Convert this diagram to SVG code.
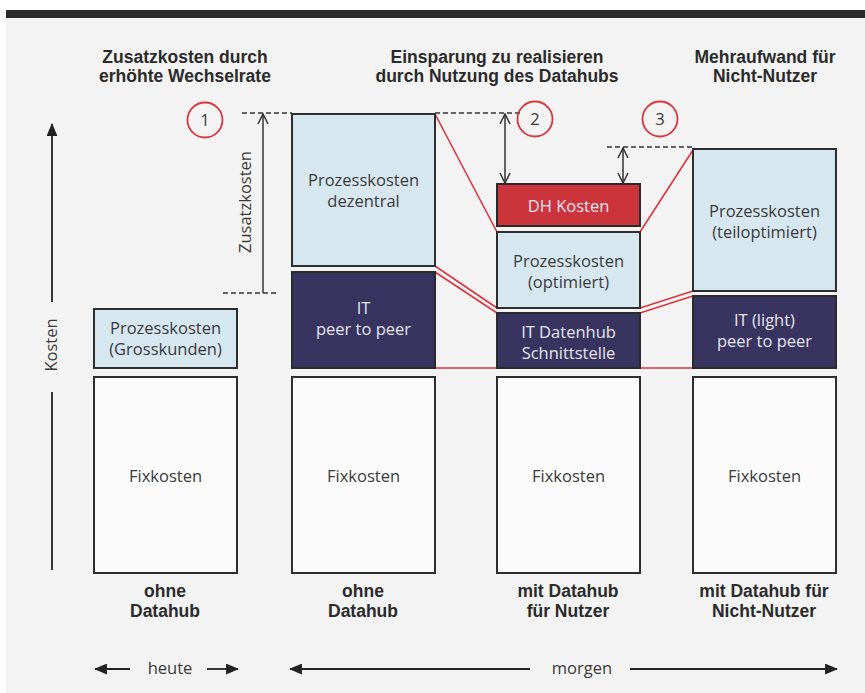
<svg xmlns="http://www.w3.org/2000/svg" width="865" height="693" viewBox="0 0 865 693">
<defs>
<style>
.hd{font-family:"Liberation Sans",Arial,sans-serif;font-weight:bold;font-size:17.5px;fill:#2b2b2b;text-anchor:middle}
.t{font-family:"Open Sans","Liberation Sans",sans-serif;font-size:16.5px;fill:#3a3a3a;text-anchor:middle}
.tl{font-family:"Open Sans","Liberation Sans",sans-serif;font-size:16.5px;fill:#e4e4ee;text-anchor:middle}
.lb{fill:#d6e7f0;stroke:#2e2e2e;stroke-width:2}
.dk{fill:#39345f;stroke:#2a2a2a;stroke-width:2}
.wh{fill:#fbfbfb;stroke:#2e2e2e;stroke-width:2}
.rd{fill:#cc343c;stroke:#2a2a2a;stroke-width:2}
.rl{stroke:#d9363e;stroke-width:1.6;fill:none}
.ds{stroke:#333;stroke-width:1.5;stroke-dasharray:5,3;fill:none}
.ar{stroke:#333;stroke-width:1.5;fill:none}
.ci{fill:none;stroke:#d9363e;stroke-width:1.8}
</style>
<marker id="open" viewBox="0 0 12 12" refX="11" refY="6" markerWidth="12" markerHeight="12" markerUnits="userSpaceOnUse" orient="auto-start-reverse">
<path d="M1,1 L11,6 L1,11" fill="none" stroke="#333" stroke-width="1.5"/>
</marker>
<marker id="fill" viewBox="0 0 12 10" refX="11" refY="5" markerWidth="13" markerHeight="11" markerUnits="userSpaceOnUse" orient="auto-start-reverse">
<path d="M0,0 L12,5 L0,10 Z" fill="#222"/>
</marker>
</defs>
<rect x="0" y="0" width="865" height="693" fill="#f3f3f3"/>
<rect x="0" y="0" width="865" height="10" fill="#ffffff"/>
<rect x="0" y="0" width="6" height="693" fill="#ffffff"/>
<rect x="6" y="10" width="859" height="8" fill="#2a2a2a"/>

<g id="headers">
<text class="hd" x="185" y="63">Zusatzkosten durch</text>
<text class="hd" x="185" y="82">erhöhte Wechselrate</text>
<text class="hd" x="497" y="63">Einsparung zu realisieren</text>
<text class="hd" x="497" y="82">durch Nutzung des Datahubs</text>
<text class="hd" x="765" y="63">Mehraufwand für</text>
<text class="hd" x="765" y="82">Nicht-Nutzer</text>
</g>

<g id="axis">
<line x1="52" y1="302" x2="52" y2="124" stroke="#222" stroke-width="1.8" marker-end="url(#fill)"/>
<text class="t" transform="translate(57,345) rotate(-90)">Kosten</text>
<line x1="52" y1="392" x2="52" y2="570" stroke="#222" stroke-width="1.8"/>
</g>

<g id="connectors">
<line class="ds" x1="223" y1="293" x2="276" y2="293"/>
<line class="ds" x1="242" y1="113" x2="292" y2="113"/>
<line class="ds" x1="435" y1="113" x2="522" y2="113"/>
<line class="ds" x1="607" y1="147" x2="693" y2="147"/>
<line class="ar" x1="263" y1="293" x2="263" y2="114" marker-end="url(#open)"/>
<line class="ar" x1="505" y1="114" x2="505" y2="183" marker-start="url(#open)" marker-end="url(#open)"/>
<line class="ar" x1="623" y1="148" x2="623" y2="183" marker-start="url(#open)" marker-end="url(#open)"/>
<line class="rl" x1="435" y1="114" x2="497" y2="232"/>
<line class="rl" x1="640" y1="232" x2="693" y2="150"/>
<line class="rl" x1="435" y1="266" x2="497" y2="308"/>
<line class="rl" x1="435" y1="272" x2="497" y2="313"/>
<line class="rl" x1="640" y1="308" x2="693" y2="291"/>
<line class="rl" x1="640" y1="313" x2="693" y2="296"/>
<line class="rl" x1="435" y1="368" x2="497" y2="368"/>
<line class="rl" x1="640" y1="368" x2="693" y2="368"/>
</g>

<g id="zusatz-label">
<text class="t" transform="translate(251,202) rotate(-90)">Zusatzkosten</text>
</g>

<g id="circle1"><circle class="ci" cx="205" cy="120" r="17.5"/><text class="t" x="205" y="126">1</text></g>
<g id="circle2"><circle class="ci" cx="535" cy="119" r="17.5"/><text class="t" x="535" y="125">2</text></g>
<g id="circle3"><circle class="ci" cx="660" cy="119" r="17.5"/><text class="t" x="660" y="125">3</text></g>

<g id="col1-prozess"><rect class="lb" x="94" y="309" width="143" height="59"/><text class="t" x="165.5" y="334">Prozesskosten</text><text class="t" x="165.5" y="355">(Grosskunden)</text></g>
<g id="col1-fix"><rect class="wh" x="94" y="377" width="143" height="196"/><text class="t" x="165.5" y="482">Fixkosten</text></g>

<g id="col2-prozess"><rect class="lb" x="292" y="114" width="143" height="152"/><text class="t" x="363.5" y="186">Prozesskosten</text><text class="t" x="363.5" y="207">dezentral</text></g>
<g id="col2-it"><rect class="dk" x="292" y="272" width="143" height="96"/><text class="tl" x="363.5" y="314">IT</text><text class="tl" x="363.5" y="335">peer to peer</text></g>
<g id="col2-fix"><rect class="wh" x="292" y="377" width="143" height="196"/><text class="t" x="363.5" y="482">Fixkosten</text></g>

<g id="col3-dh"><rect class="rd" x="497" y="184" width="143" height="42"/><text class="tl" x="568.5" y="212">DH Kosten</text></g>
<g id="col3-prozess"><rect class="lb" x="497" y="232" width="143" height="76"/><text class="t" x="568.5" y="267">Prozesskosten</text><text class="t" x="568.5" y="288">(optimiert)</text></g>
<g id="col3-it"><rect class="dk" x="497" y="313" width="143" height="55"/><text class="tl" x="568.5" y="338">IT Datenhub</text><text class="tl" x="568.5" y="359">Schnittstelle</text></g>
<g id="col3-fix"><rect class="wh" x="497" y="377" width="143" height="196"/><text class="t" x="568.5" y="482">Fixkosten</text></g>

<g id="col4-prozess"><rect class="lb" x="693" y="149" width="143" height="142"/><text class="t" x="764.5" y="217">Prozesskosten</text><text class="t" x="764.5" y="238">(teiloptimiert)</text></g>
<g id="col4-it"><rect class="dk" x="693" y="296" width="143" height="72"/><text class="tl" x="764.5" y="326">IT (light)</text><text class="tl" x="764.5" y="347">peer to peer</text></g>
<g id="col4-fix"><rect class="wh" x="693" y="377" width="143" height="196"/><text class="t" x="764.5" y="482">Fixkosten</text></g>

<g id="footers">
<text class="hd" x="165" y="597">ohne</text>
<text class="hd" x="165" y="617">Datahub</text>
<text class="hd" x="363" y="597">ohne</text>
<text class="hd" x="363" y="617">Datahub</text>
<text class="hd" x="568" y="597">mit Datahub</text>
<text class="hd" x="568" y="617">für Nutzer</text>
<text class="hd" x="764" y="597">mit Datahub für</text>
<text class="hd" x="764" y="617">Nicht-Nutzer</text>
</g>

<g id="timeline">
<line x1="130" y1="669" x2="95" y2="669" stroke="#222" stroke-width="1.8" marker-end="url(#fill)"/>
<text class="t" x="170" y="674">heute</text>
<line x1="207" y1="669" x2="238" y2="669" stroke="#222" stroke-width="1.8" marker-end="url(#fill)"/>
<line x1="530" y1="669" x2="290" y2="669" stroke="#222" stroke-width="1.8" marker-end="url(#fill)"/>
<text class="t" x="582" y="674">morgen</text>
<line x1="630" y1="669" x2="837" y2="669" stroke="#222" stroke-width="1.8" marker-end="url(#fill)"/>
</g>
</svg>
